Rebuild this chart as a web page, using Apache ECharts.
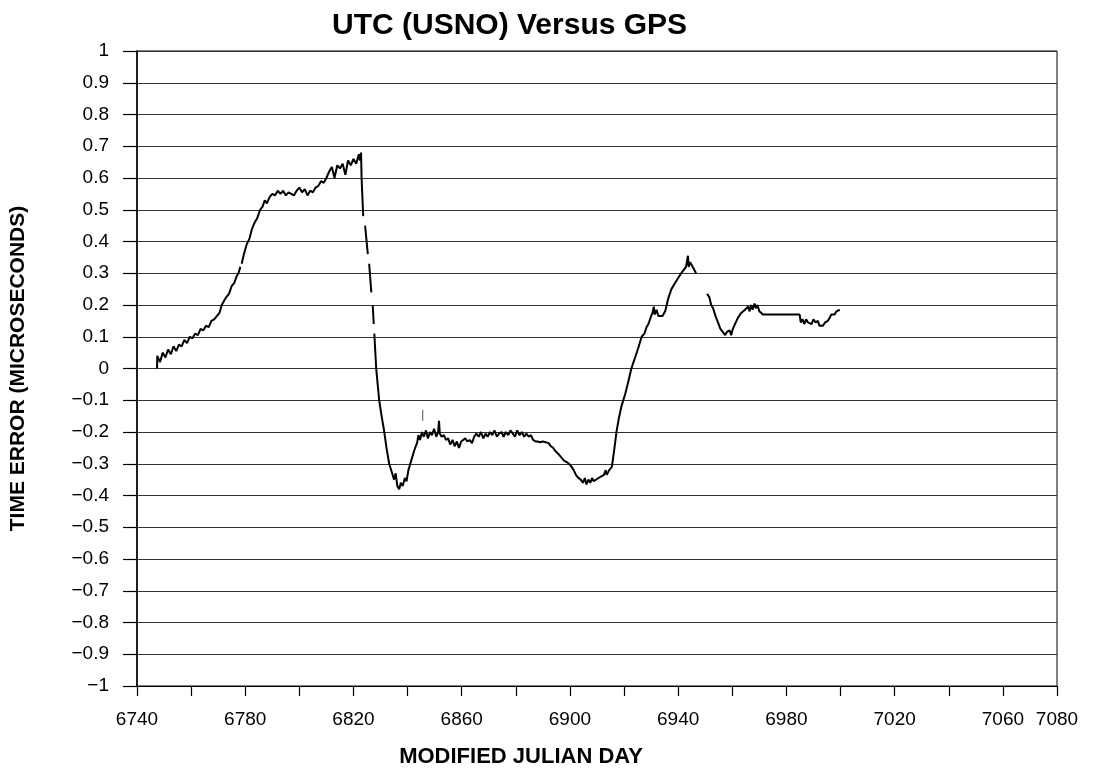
<!DOCTYPE html>
<html>
<head>
<meta charset="utf-8">
<script src="https://cdn.jsdelivr.net/npm/echarts@6/dist/echarts.min.js"></script>
<style>
  html, body { margin: 0; padding: 0; background: #fff; }
  #chart { width: 1095px; height: 776px; }
</style>
</head>
<body>
<div id="chart"></div>
<script>
// Jours MJD et erreur (microsecondes) ; null = trou dans la trace
const mjd = [
  6747.4, 6747.5, 6748.5, 6749.5, 6750.5, 6751.5, 6752.5, 6753.5, 6754.5, 6755.5,
  6756.5, 6757.5, 6758.5, 6759.5, 6760.5, 6761.5, 6762.5, 6763.5, 6764.5, 6765.5,
  6766.5, 6767.5, 6768.5, 6769.5, 6770.5, 6771.3, 6772, 6773, 6774, 6775,
  6776, 6776.8, 6777.5, 6778.2, 6778.5, 6778.7, 6779.5, 6780.5, 6781.6, 6782.5,
  6783.5, 6784.5, 6785.5, 6786.4, 6787.2, 6788, 6789, 6790, 6791, 6792,
  6793, 6794, 6795, 6796, 6797, 6798, 6799, 6800, 6801, 6802,
  6803, 6804, 6805, 6806, 6807, 6808, 6809, 6810, 6811, 6812,
  6813, 6814, 6815, 6816, 6817, 6818, 6819, 6820, 6821, 6822,
  6822.4, 6822.8, 6823, 6823.6, 6824, 6824.3, 6825.3, 6825.5, 6825.8, 6826.6,
  6826.9, 6827.1, 6827.5, 6827.6, 6827.7, 6828.4, 6829.5, 6830.4, 6831.3, 6832.2,
  6833.2, 6834.3, 6835, 6835.6, 6836.2, 6836.9, 6837.5, 6838.2, 6839, 6839.6,
  6840.3, 6841, 6841.7, 6842.4, 6843, 6843.5, 6844, 6844.6, 6845.3, 6846,
  6846.8, 6847.5, 6848.3, 6849, 6849.8, 6850.6, 6851.3, 6851.6, 6851.9, 6852.6,
  6853.4, 6854.2, 6855, 6855.8, 6856.6, 6857.4, 6858.2, 6859, 6859.8, 6860.5,
  6861.3, 6862.1, 6862.9, 6863.8, 6864.6, 6865.4, 6866.3, 6867.1, 6868, 6868.8,
  6869.6, 6870.5, 6871.3, 6872.1, 6873, 6873.8, 6874.7, 6875.5, 6876.3, 6877.2,
  6878, 6878.9, 6879.7, 6880.5, 6881.4, 6882.2, 6883.1, 6883.9, 6884.8, 6885.6,
  6886.4, 6887.3, 6888.1, 6889, 6890, 6891, 6892.1, 6893, 6893.8, 6894.6,
  6895.8, 6896.8, 6897.8, 6898.8, 6899.7, 6900.6, 6901.4, 6902.2, 6903.2, 6904,
  6904.8, 6905.5, 6906.1, 6906.8, 6907.5, 6908.2, 6908.8, 6909.5, 6910.5, 6911.6,
  6912.6, 6913.2, 6913.6, 6914.5, 6915.5, 6916.3, 6917.2, 6918, 6919, 6920.5,
  6921.6, 6922.7, 6923.5, 6924.3, 6925.3, 6926.5, 6927.5, 6928.3, 6929, 6929.8,
  6930.5, 6931, 6931.3, 6932, 6932.7, 6933.4, 6934.2, 6935.2, 6936.3, 6937.5,
  6938.9, 6940, 6941.1, 6942, 6942.9, 6943.3, 6943.6, 6943.9, 6944.4, 6944.8,
  6945.7, 6946.6, 6948, 6950.7, 6951.5, 6952.2, 6952.9, 6953.8, 6954.7, 6955.6,
  6956.6, 6957.4, 6958, 6958.4, 6959, 6959.6, 6960.2, 6961, 6962.1, 6963.3,
  6964.7, 6965.8, 6966.4, 6966.9, 6967.5, 6968.2, 6968.7, 6969.3, 6970, 6970.6,
  6971.3, 6972, 6984.9, 6985.3, 6986, 6986.6, 6987.3, 6988, 6988.6, 6989.3,
  6990, 6990.8, 6991.6, 6992.2, 6992.7, 6993.5, 6994.3, 6995.3, 6996, 6996.6,
  6997.2, 6997.8, 6998.5, 6999.1, 6999.7
];
const err = [
  0.0, 0.04, 0.02, 0.05, 0.035, 0.06, 0.045, 0.07, 0.055, 0.075,
  0.07, 0.09, 0.08, 0.10, 0.095, 0.11, 0.105, 0.125, 0.12, 0.135,
  0.13, 0.15, 0.155, 0.165, 0.175, 0.20, 0.21, 0.225, 0.235, 0.26,
  0.27, 0.29, 0.30, 0.32, null, 0.33, 0.36, 0.39, 0.41, 0.44,
  0.46, 0.475, 0.50, 0.51, 0.53, 0.52, 0.54, 0.55, 0.545, 0.56,
  0.55, 0.56, 0.545, 0.555, 0.55, 0.545, 0.56, 0.57, 0.555, 0.565,
  0.545, 0.56, 0.555, 0.57, 0.575, 0.59, 0.585, 0.60, 0.62, 0.635,
  0.60, 0.64, 0.63, 0.645, 0.61, 0.655, 0.64, 0.66, 0.645, 0.675,
  0.655, 0.68, 0.60, 0.48, null, 0.45, 0.36, null, 0.33, 0.24,
  null, 0.20, 0.14, null, 0.11, 0.0, -0.10, -0.15, -0.195, -0.25,
  -0.30, -0.33, -0.35, -0.33, -0.37, -0.38, -0.36, -0.37, -0.345, -0.355,
  -0.32, -0.30, -0.28, -0.26, -0.245, -0.235, -0.21, -0.225, -0.20, -0.215,
  -0.195, -0.22, -0.20, -0.21, -0.19, -0.215, -0.20, -0.165, -0.205, -0.215,
  -0.21, -0.225, -0.22, -0.24, -0.225, -0.245, -0.23, -0.25, -0.23, -0.225,
  -0.22, -0.23, -0.225, -0.235, -0.215, -0.205, -0.215, -0.20, -0.22, -0.205,
  -0.215, -0.20, -0.21, -0.195, -0.215, -0.205, -0.20, -0.215, -0.20, -0.21,
  -0.195, -0.205, -0.215, -0.195, -0.21, -0.20, -0.215, -0.205, -0.215, -0.21,
  -0.225, -0.23, -0.23, -0.232, -0.23, -0.232, -0.235, -0.245, -0.25, -0.26,
  -0.27, -0.28, -0.29, -0.295, -0.30, -0.31, -0.32, -0.335, -0.345, -0.35,
  -0.36, -0.345, -0.365, -0.35, -0.36, -0.345, -0.355, -0.35, -0.345, -0.34,
  -0.335, -0.32, -0.335, -0.32, -0.31, -0.26, -0.20, -0.16, -0.12, -0.078,
  -0.04, 0.0, 0.02, 0.04, 0.066, 0.10, 0.11, 0.13, 0.14, 0.16,
  0.175, 0.195, 0.17, 0.185, 0.165, 0.17, 0.165, 0.18, 0.22, 0.25,
  0.27, 0.285, 0.30, 0.31, 0.32, 0.34, 0.355, 0.32, 0.335, 0.33,
  0.315, 0.30, null, 0.235, 0.225, 0.20, 0.19, 0.165, 0.145, 0.125,
  0.114, 0.105, 0.115, 0.11, 0.12, 0.105, 0.125, 0.14, 0.16, 0.175,
  0.185, 0.195, 0.18, 0.20, 0.185, 0.205, 0.19, 0.20, 0.18, 0.185,
  0.17, 0.17, 0.17, 0.145, 0.155, 0.14, 0.155, 0.145, 0.15, 0.14,
  0.155, 0.145, 0.15, 0.135, 0.13, 0.135, 0.145, 0.15, 0.16, 0.17,
  0.175, 0.17, 0.18, 0.175, 0.185
];
// Petit trait isolé vers MJD 6845
const markMjd = [6845.6, 6845.6];
const markErr = [-0.13, -0.165];

// Libellés de l'axe X affichés
const xLabels = [6740, 6780, 6820, 6860, 6900, 6940, 6980, 7020, 7060, 7080];

const FONT = '"Liberation Sans", Arial, Helvetica, sans-serif';

const traceData = mjd.map((x, i) => [x, err[i] === null ? '-' : err[i]]);
const markData = markMjd.map((x, i) => [x, markErr[i]]);

function fmtY(v) {
  const s = String(Number(v.toFixed(1)));
  return s.replace('-', '\u2212');
}

const chart = echarts.init(document.getElementById('chart'), null, { renderer: 'canvas' });
chart.setOption({
  backgroundColor: '#fff',
  animation: false,
  title: {
    text: 'UTC (USNO) Versus GPS',
    left: 327,
    top: 6,
    textStyle: { fontFamily: FONT, fontSize: 30, fontWeight: 'bold', color: '#000' }
  },
  grid: {
    left: 137, right: 38, top: 51, bottom: 90,
    show: true, borderColor: '#000', borderWidth: 1, backgroundColor: 'transparent'
  },
  xAxis: {
    type: 'value',
    min: 6740, max: 7080, interval: 20,
    name: 'MODIFIED JULIAN DAY',
    nameLocation: 'middle',
    nameGap: 60,
    nameTextStyle: {
      fontFamily: FONT, fontSize: 22, fontWeight: 'bold', color: '#000',
      padding: [0, 152, 0, 0]
    },
    axisLine: { show: true, onZero: false, lineStyle: { color: '#000', width: 1.2 } },
    axisTick: { show: true, inside: false, length: 10, lineStyle: { color: '#000', width: 1.2 } },
    axisLabel: {
      margin: 24,
      fontFamily: FONT, fontSize: 19, color: '#000',
      showMinLabel: true, showMaxLabel: true,
      formatter: v => (xLabels.includes(v) ? String(v) : '')
    },
    splitLine: { show: false }
  },
  yAxis: {
    type: 'value',
    min: -1, max: 1, interval: 0.1,
    name: 'TIME ERROR (MICROSECONDS)',
    nameLocation: 'middle',
    nameGap: 108,
    nameRotate: 90,
    nameTextStyle: { fontFamily: FONT, fontSize: 21, fontWeight: 'bold', color: '#000' },
    axisLine: { show: true, onZero: false, lineStyle: { color: '#000', width: 1.5 } },
    axisTick: { show: true, inside: false, length: 14, lineStyle: { color: '#000', width: 1.2 } },
    axisLabel: {
      margin: 28,
      fontFamily: FONT, fontSize: 19, color: '#000',
      formatter: fmtY
    },
    splitLine: { show: true, lineStyle: { color: '#333', width: 1 } }
  },
  series: [
    {
      type: 'line',
      data: traceData,
      showSymbol: false,
      symbol: 'none',
      connectNulls: false,
      lineStyle: { color: '#000', width: 2 }
    },
    {
      type: 'line',
      data: markData,
      showSymbol: false,
      symbol: 'none',
      lineStyle: { color: '#555', width: 1 }
    }
  ]
});
</script>
</body>
</html>
